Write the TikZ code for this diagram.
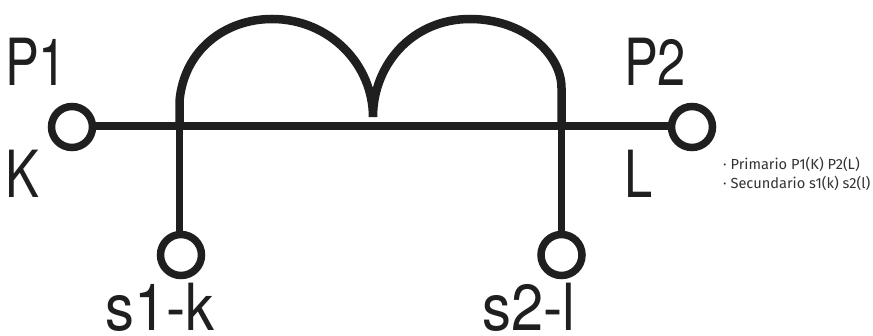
\documentclass[tikz,border=0pt]{standalone}
\usepackage{fontspec}
\setmainfont{TeX Gyre Heros}
\newfontfamily\notefont{Fira Sans}
\begin{document}
\begin{tikzpicture}[x=1pt,y=-1pt,
  wire/.style={line width=7.5pt,color=black!88},
  coilwire/.style={wire,line width=8.5pt,line join=bevel},
  terminal/.style={circle,draw=black!88,line width=7.5pt,minimum size=41pt,inner sep=0pt,fill=white},
  biglabel/.style={font=\fontsize{65}{65}\selectfont,text=black!88,inner sep=0pt,xscale=0.78,anchor=base west},
  widelabel/.style={biglabel,xscale=1.14},
  note/.style={font=\notefont\fontsize{14.6}{19}\selectfont,text=black!80,inner sep=0pt,anchor=north west,align=left}]
\useasboundingbox (0,0) rectangle (873,336);
\fill[white] (0,0) rectangle (873,336);
\coordinate (tapL) at (179.5,126);
\coordinate (tapR) at (561.5,126);
\coordinate (cusp) at (373,117);
\draw[wire] (72,126) -- (692,126);
\draw[coilwire]
  (tapL) -- (179.5,101)
  .. controls (184,50) and (225,19) .. (272,19)
  .. controls (330,19) and (373,65) .. (cusp)
  .. controls (373,65) and (412,19) .. (470,19)
  .. controls (525,19) and (561.5,55) .. (561.5,88)
  -- (tapR);
\draw[wire] (tapL) -- (179.5,255);
\draw[wire] (tapR) -- (561.5,255);
\node[terminal] (p1) at (72,127) {};
\node[terminal] (p2) at (692,127) {};
\node[terminal] (s1) at (181,255) {};
\node[terminal] (s2) at (561.5,255) {};
\node[biglabel] (lp1) at (5,86) {P1};
\node[biglabel] (lk) at (5,198) {K};
\node[biglabel] (lp2) at (624,86) {P2};
\node[biglabel] (ll) at (624,198) {L};
\node[widelabel] (ls1) at (105,331) {s1-k};
\node[widelabel] (ls2) at (482,331) {s2-l};
\node[note] (n) at (723,157) {· Primario P1(K) P2(L)\\· Secundario s1(k) s2(l)};
\end{tikzpicture}
\end{document}
